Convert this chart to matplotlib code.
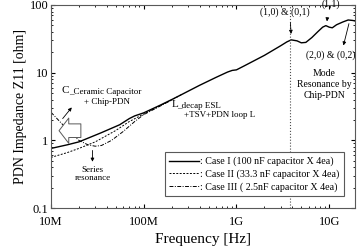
import matplotlib
matplotlib.use('Agg')
import matplotlib.pyplot as plt
import numpy as np

plt.rcParams['font.family'] = ['Liberation Serif', 'DejaVu Serif']

# Case I : 100 nF x 4ea (solid)
f1 = [10e6, 15e6, 20e6, 26e6, 35e6, 55e6, 70e6, 80e6, 100e6, 150e6, 200e6, 260e6,
      400e6, 600e6, 800e6, 900e6, 1e9, 1.2e9, 2e9, 3e9, 3.5e9, 3.9e9, 4.5e9, 5e9,
      5.6e9, 6.5e9, 7.5e9, 8.5e9, 9.2e9, 10e9, 10.8e9, 12e9, 14e9, 16e9, 18e9, 19e9]
z1 = [0.76, 0.86, 0.95, 1.1, 1.3, 1.7, 2.1, 2.3, 2.55, 3.3, 4.0, 4.8,
      6.5, 8.5, 10.2, 10.8, 11.0, 12.5, 18, 25, 28.5, 30.5, 29.5, 27.6,
      28, 33, 40, 47, 49.5, 47, 46, 51, 56, 60, 59, 58]

# Case II : 33.3 nF x 4ea (dashed)
f2 = [10e6, 15e6, 20e6, 30e6, 50e6, 70e6, 100e6, 150e6, 200e6, 260e6]
z2 = [0.56, 0.66, 0.76, 0.95, 1.4, 1.9, 2.45, 3.25, 3.95, 4.8]

# Case III : 2.5 nF x 4ea (dash-dot)
f3 = [10e6, 12e6, 15e6, 20e6, 25e6, 30e6, 35e6, 45e6, 60e6, 80e6, 100e6, 150e6, 200e6]
z3 = [2.6, 2.0, 1.45, 1.0, 0.86, 0.82, 0.84, 1.0, 1.35, 1.9, 2.4, 3.2, 3.95]

labels = [': Case I (100 nF capacitor X 4ea)',
          ': Case II (33.3 nF capacitor X 4ea)',
          ': Case III ( 2.5nF capacitor X 4ea)']

xticks = [1e7, 1e8, 1e9, 1e10]
xticklabels = ['10M', '100M', '1G', '10G']
yticks = [0.1, 1, 10, 100]
yticklabels = ['0.1', '1', '10', '100']

fig = plt.figure(figsize=(3.59, 2.48), dpi=100)
ax = fig.add_axes([0.142, 0.161, 0.847, 0.819])

ax.plot(f1, z1, 'k-', lw=1.0, label=labels[0])
ax.plot(f2, z2, 'k--', lw=0.7, dashes=(2, 1.5), label=labels[1])
ax.plot(f3, z3, 'k-.', lw=0.7, dashes=(4, 1.5, 1, 1.5), label=labels[2])

ax.set_xscale('log')
ax.set_yscale('log')
ax.set_xlim(1e7, 1.9e10)
ax.set_ylim(0.1, 100)
ax.set_xticks(xticks)
ax.set_xticklabels(xticklabels)
ax.set_yticks(yticks)
ax.set_yticklabels(yticklabels)
ax.tick_params(which='both', direction='in', top=True, right=True, labelsize=9)
ax.tick_params(axis='x', pad=6)
ax.tick_params(axis='y', pad=2)
ax.tick_params(which='major', length=3)
ax.tick_params(which='minor', length=1.5)
for s in ax.spines.values():
    s.set_color('0.35')
    s.set_linewidth(0.8)

ax.set_xlabel('Frequency [Hz]', fontsize=11, labelpad=3)
ax.set_ylabel('PDN Impedance Z11 [ohm]', fontsize=10, labelpad=2)

ax.axvline(3.8e9, color='0.3', ls=':', lw=0.8)

# annotations
ax.text(13e6, 5.0, 'C', fontsize=8)
ax.text(15.8e6, 4.9, '_Ceramic Capacitor', fontsize=6.5)
ax.text(40e6, 3.45, '+ Chip-PDN', fontsize=6.5, ha='center')
ax.annotate('', xy=(17.5e6, 3.3), xytext=(12.8e6, 1.95),
            arrowprops=dict(arrowstyle='-|>', lw=0.6, color='k', mutation_scale=5))
ax.annotate('', xy=(11.4e6, 1.39), xytext=(22.5e6, 1.39),
            arrowprops=dict(arrowstyle='simple,head_length=0.5,head_width=1.3,tail_width=0.7',
                            fc='white', ec='0.35', lw=0.7, mutation_scale=14))
ax.annotate('', xy=(28e6, 0.44), xytext=(28e6, 0.78),
            arrowprops=dict(arrowstyle='-|>', lw=0.6, color='k', mutation_scale=5))
ax.text(28e6, 0.42, 'Series\nresonance', fontsize=6.5, ha='center', va='top', linespacing=1.0)

ax.text(200e6, 3.1, 'L', fontsize=8)
ax.text(228e6, 3.05, '_decap ESL', fontsize=6.5)
ax.text(270e6, 2.2, '+TSV+PDN loop L', fontsize=6.5)

ax.text(3.3e9, 72, '(1,0) & (0,1)', fontsize=7, ha='center')
ax.annotate('', xy=(3.9e9, 34), xytext=(3.8e9, 60),
            arrowprops=dict(arrowstyle='-|>', lw=0.6, color='k', mutation_scale=5))
ax.text(10.4e9, 93, '(1,1)', fontsize=7, ha='center')
ax.annotate('', xy=(9.4e9, 52), xytext=(9.6e9, 70),
            arrowprops=dict(arrowstyle='-|>', lw=0.6, color='k', mutation_scale=5))
ax.text(10.4e9, 16.5, '(2,0) & (0,2)', fontsize=7, ha='center')
ax.annotate('', xy=(14e9, 23), xytext=(16.6e9, 58),
            arrowprops=dict(arrowstyle='-|>', lw=0.6, color='k', mutation_scale=5))
ax.text(8.9e9, 11.5, 'Mode\nResonance by\nChip-PDN', fontsize=7, ha='center', va='top',
        linespacing=1.3)

leg = ax.legend(loc='lower right', bbox_to_anchor=(0.964, 0.059), fontsize=7.2, frameon=True,
                fancybox=False, edgecolor='0.35', handlelength=3.0, handletextpad=0.1,
                borderpad=0.45, labelspacing=0.3, borderaxespad=0, framealpha=1)
leg.get_frame().set_linewidth(0.8)

fig.savefig('out.png', dpi=100)
